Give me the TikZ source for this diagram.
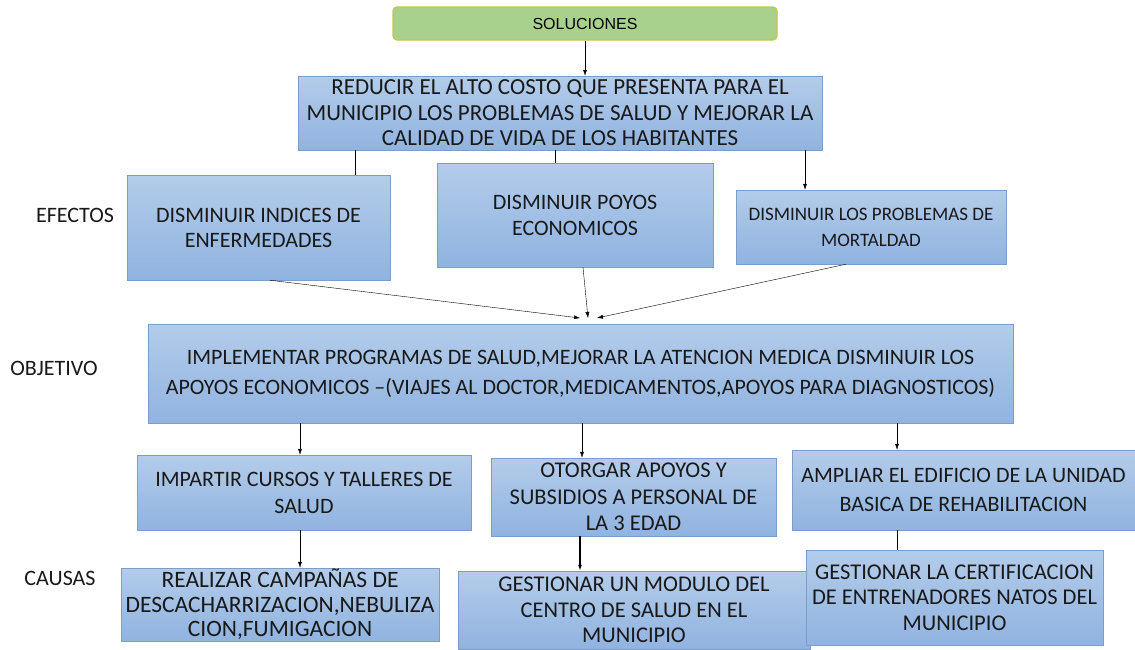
\documentclass[tikz,border=0pt]{standalone}
\usepackage{fontspec}
\setmainfont{Carlito}
\newfontfamily\arialfont{Liberation Sans}
\usetikzlibrary{positioning,arrows.meta}
\definecolor{boxtop}{HTML}{B3CCEA}
\definecolor{boxbot}{HTML}{90B3E0}
\definecolor{boxline}{HTML}{7C9DCA}
\definecolor{solfill}{HTML}{A9D18E}
\definecolor{solline}{HTML}{C8C44E}

\begin{document}
\begin{tikzpicture}[x=1pt, y=-1pt,
  box/.style={draw=boxline, top color=boxtop, bottom color=boxbot, align=center, inner sep=1pt, text=black!90},
  label/.style={font=\fontsize{22}{24}\selectfont, text=black!90},
  arr/.style={-{Latex[length=6pt, width=4pt]}, black}]
  \useasboundingbox (0,0) rectangle (1135,649);

  % top
  \node (sol) at (585,23.5) [draw=solline, line width=1.2pt, fill=solfill, rounded corners=4pt,
    minimum width=384pt, minimum height=33pt, font=\arialfont\fontsize{16}{18}\selectfont] {SOLUCIONES};
  \node (red) at (560,113) [box, minimum width=524pt, minimum height=74pt, font=\fontsize{23}{25.5}\selectfont]
    {REDUCIR EL ALTO COSTO QUE PRESENTA PARA EL\\MUNICIPIO LOS PROBLEMAS DE SALUD Y MEJORAR LA\\CALIDAD DE VIDA DE LOS HABITANTES};

  % efectos
  \node (efe1) at (258.5,227.5) [box, minimum width=263pt, minimum height=105pt, font=\fontsize{22}{25}\selectfont]
    {DISMINUIR INDICES DE\\ENFERMEDADES};
  \node (efe2) at (575,215) [box, minimum width=276pt, minimum height=104pt, font=\fontsize{22}{26}\selectfont]
    {DISMINUIR POYOS\\ECONOMICOS};
  \node (efe3) at (871,227) [box, minimum width=270pt, minimum height=74pt, font=\fontsize{19}{26}\selectfont]
    {DISMINUIR LOS PROBLEMAS DE\\MORTALDAD};

  % objetivo
  \node (obj) at (580.5,373.5) [box, minimum width=865pt, minimum height=99pt, font=\fontsize{22}{30}\selectfont]
    {IMPLEMENTAR PROGRAMAS DE SALUD,MEJORAR LA ATENCION MEDICA DISMINUIR LOS\\APOYOS ECONOMICOS --(VIAJES AL DOCTOR,MEDICAMENTOS,APOYOS PARA DIAGNOSTICOS)};

  % causas
  \node (cau1) at (304,492.5) [box, minimum width=334pt, minimum height=75pt, font=\fontsize{22}{27}\selectfont]
    {IMPARTIR CURSOS Y TALLERES DE\\SALUD};
  \node (cau2) at (633.5,497) [box, minimum width=285pt, minimum height=78pt, font=\fontsize{22.5}{26.5}\selectfont]
    {OTORGAR APOYOS Y\\SUBSIDIOS A PERSONAL DE\\LA 3 EDAD};
  \node (cau3) at (963.5,490) [box, minimum width=343pt, minimum height=80pt, font=\fontsize{22}{29}\selectfont]
    {AMPLIAR EL EDIFICIO DE LA UNIDAD\\BASICA DE REHABILITACION};

  \node (sub1) at (280,604.5) [box, minimum width=318pt, minimum height=73pt, font=\fontsize{23.5}{24.5}\selectfont]
    {REALIZAR CAMPAÑAS DE\\DESCACHARRIZACION,NEBULIZA\\CION,FUMIGACION};
  \node (sub2) at (634,610) [box, minimum width=352pt, minimum height=78pt, font=\fontsize{22.5}{25.5}\selectfont]
    {GESTIONAR UN MODULO DEL\\CENTRO DE SALUD EN EL\\MUNICIPIO};
  \node (sub3) at (954.5,597.5) [box, minimum width=297pt, minimum height=95pt, font=\fontsize{22.5}{25.5}\selectfont]
    {GESTIONAR LA CERTIFICACION\\DE ENTRENADORES NATOS DEL\\MUNICIPIO};

  % etiquetas
  \node (lefe) at (75,215) [label] {EFECTOS};
  \node (lobj) at (54,368) [label] {OBJETIVO};
  \node (lcau) at (60,578) [label] {CAUSAS};

  % conectores
  \draw[arr] (sol.south) -- (sol.south |- red.north);
  \draw (355,0 |- red.south) -- (355,0 |- efe1.north);
  \draw (555,0 |- red.south) -- (555,0 |- efe2.north);
  \draw[arr] (805,0 |- red.south) -- (805,0 |- efe3.north);

  \coordinate (m1) at (580,318);
  \coordinate (m2) at (588,318);
  \coordinate (m3) at (597,318);
  \draw[arr] (270,0 |- efe1.south) -- (m1);
  \draw[arr] (583,0 |- efe2.south) -- (m2);
  \draw[arr] (846,0 |- efe3.south) -- (m3);

  \draw[arr] (300,0 |- obj.south) -- (300,0 |- cau1.north);
  \draw[arr] (582,0 |- obj.south) -- (582,0 |- cau2.north);
  \draw[arr] (897,0 |- obj.south) -- (897,0 |- cau3.north);

  \draw[arr] (300,0 |- cau1.south) -- (300,0 |- sub1.north);
  \draw[arr, line width=1.4pt] (580,0 |- cau2.south) -- (580,0 |- sub2.north);
  \draw (897,0 |- cau3.south) -- (897,0 |- sub3.north);
\end{tikzpicture}
\end{document}
